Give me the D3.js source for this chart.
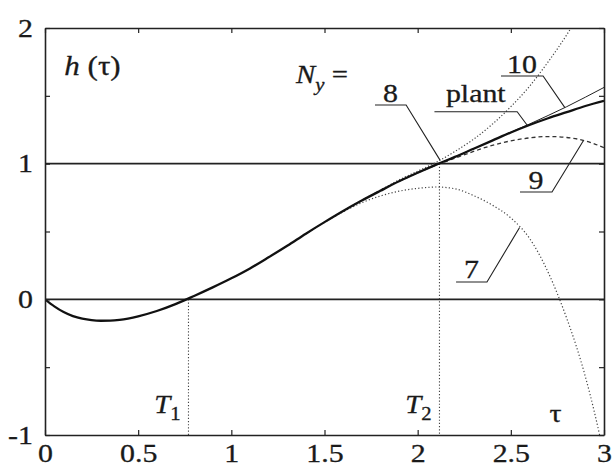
<!DOCTYPE html>
<html>
<head>
<meta charset="utf-8">
<script src="https://cdn.jsdelivr.net/npm/d3@7"></script>
<style>
  html, body { margin: 0; padding: 0; background: #fff; }
  svg { display: block; }
</style>
</head>
<body>
<svg id="chart" width="612" height="467"></svg>
<script>
// Step response h(τ) of the plant and of its approximations with N_y terms.
const tauPlant = [0, 0.05, 0.1, 0.15, 0.2, 0.25, 0.3, 0.35, 0.4, 0.5, 0.6, 0.7, 0.8, 0.9,
                  1.0, 1.1, 1.2, 1.3, 1.4, 1.5, 1.6, 1.7, 1.8, 1.9, 2.0, 2.1, 2.2, 2.3,
                  2.4, 2.5, 2.6, 2.7, 2.8, 2.9, 3.0];
const hPlant = [0, -0.052, -0.094, -0.124, -0.143, -0.154, -0.158, -0.157, -0.151, -0.125,
                -0.086, -0.035, 0.025, 0.088, 0.155, 0.228, 0.31, 0.395, 0.484, 0.569,
                0.651, 0.728, 0.8, 0.87, 0.933, 0.993, 1.05, 1.11, 1.17, 1.23, 1.285,
                1.335, 1.38, 1.425, 1.463];

const tau10 = [2.0, 2.1, 2.2, 2.3, 2.4, 2.5, 2.6, 2.7, 2.8, 2.9, 3.0];
const h10   = [0.933, 0.993, 1.05, 1.11, 1.17, 1.232, 1.292, 1.355, 1.42, 1.49, 1.562];

const tau9 = [1.9, 2.0, 2.1, 2.2, 2.3, 2.4, 2.5, 2.6, 2.7, 2.8, 2.9, 3.0];
const h9   = [0.87, 0.933, 0.99, 1.04, 1.09, 1.135, 1.168, 1.19, 1.2, 1.193, 1.168, 1.118];

const tau8 = [1.6, 1.7, 1.8, 1.9, 2.0, 2.1, 2.2, 2.3, 2.4, 2.5, 2.6, 2.7, 2.8, 2.9, 3.0];
const h8   = [0.651, 0.73, 0.805, 0.88, 0.945, 1.01, 1.09, 1.18, 1.29, 1.42, 1.57, 1.75,
              1.95, 2.18, 2.45];

const tau7 = [1.4, 1.5, 1.6, 1.7, 1.8, 1.9, 2.0, 2.1, 2.2, 2.3, 2.4, 2.5, 2.6, 2.7, 2.75,
              2.8, 2.85, 2.9, 2.95, 3.0];
const h7   = [0.484, 0.567, 0.645, 0.712, 0.762, 0.797, 0.818, 0.828, 0.815, 0.765, 0.695,
              0.6, 0.45, 0.2, 0.04, -0.14, -0.34, -0.57, -0.84, -1.15];

// Axis ticks and labels
const xTicks = [0, 0.5, 1, 1.5, 2, 2.5, 3];
const xTickLabels = ["0", "0.5", "1", "1.5", "2", "2.5", "3"];
const yTicks = [-1, -0.5, 0, 0.5, 1, 1.5, 2];
const yLabelValues = [-1, 0, 1, 2];
const yTickLabels = ["-1", "0", "1", "2"];

// Characteristic times
const T1 = 0.77;
const T2 = 2.117;

// Callout labels: leader runs along the underline, then to the curve at τ = at
const callouts = [
  { label: "8",     series: "8",     at: 2.12,  from: 1.771, to: 1.938, level: 1.432 },
  { label: "plant", series: "plant", at: 2.59,  from: 2.09,  to: 2.534, level: 1.383 },
  { label: "10",    series: "10",    at: 2.79,  from: 2.447, to: 2.673, level: 1.646 },
  { label: "9",     series: "9",     at: 2.89,  from: 2.549, to: 2.721, level: 0.791 },
  { label: "7",     series: "7",     at: 2.547, from: 2.206, to: 2.372, level: 0.128 }
];

const series = [
  { id: "7",     tau: tau7,     h: h7,     width: 1.2, dash: "1.2,2.2", color: "#444" },
  { id: "8",     tau: tau8,     h: h8,     width: 1.2, dash: "1.2,2",   color: "#444" },
  { id: "9",     tau: tau9,     h: h9,     width: 1.3, dash: "4,3",     color: "#333" },
  { id: "10",    tau: tau10,    h: h10,    width: 1.0, dash: null,      color: "#222" },
  { id: "plant", tau: tauPlant, h: hPlant, width: 2.3, dash: null,      color: "#111" }
];

const FONT = "Liberation Serif";
const STRETCH = 1.15;   // the lettering is set slightly wide
const INK = "#1a1a1a";

// Widen a text element horizontally about its anchor point and thicken its strokes a little.
function widen(sel) {
  sel.each(function () {
    const ax = +this.getAttribute("x") || 0;
    this.setAttribute("transform",
      `translate(${ax},0) scale(${STRETCH},1) translate(${-ax},0)`);
    this.setAttribute("stroke", INK);
    this.setAttribute("stroke-width", 0.3);
    this.style.fontFamily = FONT;
  });
}

const svg = d3.select("#chart")
  .style("font-family", FONT);
const x = d3.scaleLinear().domain([0, 3]).range([45, 604]);
const y = d3.scaleLinear().domain([-1, 2]).range([435, 28]);

svg.append("defs").append("clipPath").attr("id", "plot-clip")
  .append("rect")
  .attr("x", x(0)).attr("y", y(2))
  .attr("width", x(3) - x(0)).attr("height", y(-1) - y(2));

// Reference levels h = 0 and h = 1
svg.append("g").selectAll("line").data([0, 1]).join("line")
  .attr("x1", x(0)).attr("x2", x(3))
  .attr("y1", d => y(d)).attr("y2", d => y(d))
  .attr("stroke", "#222").attr("stroke-width", 1.6);

// Vertical markers at T1 and T2
svg.append("g").selectAll("line").data([[T1, 0], [T2, 1]]).join("line")
  .attr("x1", d => x(d[0])).attr("x2", d => x(d[0]))
  .attr("y1", d => y(d[1])).attr("y2", y(-1))
  .attr("stroke", "#444").attr("stroke-width", 1.1)
  .attr("stroke-dasharray", "1.2,2");

// Curves
const line = d3.line()
  .x(d => x(d[0])).y(d => y(d[1]))
  .curve(d3.curveMonotoneX);

const curves = svg.append("g").attr("clip-path", "url(#plot-clip)");
series.forEach(s => {
  curves.append("path")
    .datum(d3.zip(s.tau, s.h))
    .attr("fill", "none")
    .attr("stroke", s.color)
    .attr("stroke-width", s.width)
    .attr("stroke-dasharray", s.dash)
    .attr("stroke-linejoin", "round")
    .attr("d", line);
});

// Axes: inward ticks on all four sides
const fontSize = 26;
const axisStyle = g => {
  g.attr("font-family", null).attr("font-size", fontSize);
  g.selectAll(".domain").attr("stroke", "#222").attr("stroke-width", 1.6);
  g.selectAll(".tick line").attr("stroke", "#222").attr("stroke-width", 1.2);
  g.selectAll("text").attr("fill", INK).call(widen);
};

svg.append("g").attr("transform", `translate(0,${y(-1)})`)
  .call(d3.axisBottom(x).tickValues(xTicks)
    .tickFormat((d, i) => xTickLabels[i])
    .tickSizeInner(-5).tickSizeOuter(0).tickPadding(9))
  .call(axisStyle);

svg.append("g").attr("transform", `translate(0,${y(2)})`)
  .call(d3.axisTop(x).tickValues(xTicks).tickFormat("")
    .tickSizeInner(-5).tickSizeOuter(0))
  .call(axisStyle);

svg.append("g").attr("transform", `translate(${x(0)},0)`)
  .call(d3.axisLeft(y).tickValues(yTicks)
    .tickFormat(d => {
      const k = yLabelValues.indexOf(d);
      return k >= 0 ? yTickLabels[k] : "";
    })
    .tickSizeInner(-5).tickSizeOuter(0).tickPadding(12))
  .call(axisStyle);

svg.append("g").attr("transform", `translate(${x(3)},0)`)
  .call(d3.axisRight(y).tickValues(yTicks).tickFormat("")
    .tickSizeInner(-5).tickSizeOuter(0))
  .call(axisStyle);

// Callout leaders and labels
const byId = Object.fromEntries(series.map(s => [s.id, s]));
const interp = s => d3.scaleLinear().domain(s.tau).range(s.h);

const co = svg.append("g");
callouts.forEach(c => {
  const s = byId[c.series];
  const hy = interp(s)(c.at);
  const pts = [[x(c.from), y(c.level)], [x(c.to), y(c.level)], [x(c.at), y(hy)]];
  co.append("polyline")
    .attr("points", pts.map(p => p.join(",")).join(" "))
    .attr("fill", "none").attr("stroke", "#222").attr("stroke-width", 1.1);
  const gap = /[gpqy]/.test(c.label) ? 10 : 3.5;
  co.append("text")
    .attr("x", (x(c.from) + x(c.to)) / 2)
    .attr("y", y(c.level) - gap)
    .attr("text-anchor", "middle")
    .attr("font-size", fontSize)
    .attr("fill", INK)
    .text(c.label)
    .call(widen);
});

// Ordinate title h(τ)
const hTitle = svg.append("text")
  .attr("x", 92.5).attr("y", 75)
  .attr("text-anchor", "middle")
  .attr("font-size", 27)
  .attr("fill", INK);
hTitle.append("tspan").attr("font-style", "italic").text("h");
hTitle.append("tspan").text(" (τ)");
hTitle.call(widen);

// N_y =
const nTitle = svg.append("text")
  .attr("x", 322).attr("y", 83)
  .attr("text-anchor", "middle")
  .attr("font-size", 25)
  .attr("fill", INK);
nTitle.append("tspan").attr("font-style", "italic").text("N");
nTitle.append("tspan").attr("font-style", "italic").attr("font-size", 18).attr("dy", 8).text("y");
nTitle.append("tspan").attr("dy", -8).text(" =");
nTitle.call(widen);

// T1, T2 and τ labels
[[T1, "1"], [T2, "2"]].forEach(([t, sub]) => {
  const tl = svg.append("text")
    .attr("x", x(t) - 21).attr("y", 413)
    .attr("text-anchor", "middle")
    .attr("font-size", 25)
    .attr("fill", INK);
  tl.append("tspan").attr("font-style", "italic").text("T");
  tl.append("tspan").attr("font-size", 18).attr("dy", 7).text(sub);
  tl.call(widen);
});

svg.append("text")
  .attr("x", x(2.74)).attr("y", 422)
  .attr("text-anchor", "middle")
  .attr("font-size", 26)
  .attr("fill", INK)
  .text("τ")
  .call(widen);
</script>
</body>
</html>
